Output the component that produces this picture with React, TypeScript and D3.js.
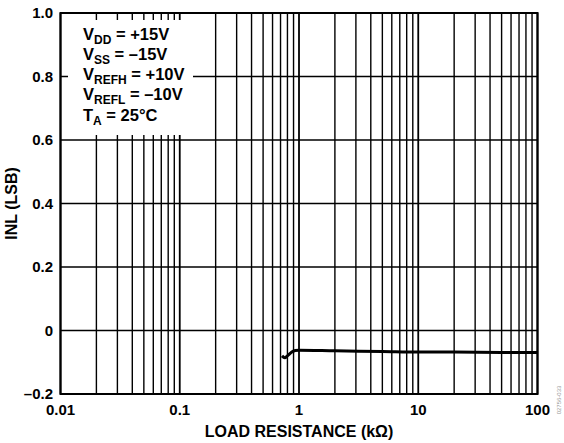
import React from 'react';
import * as d3 from 'd3';

// load resistance (kOhm) vs INL (LSB)
const loadKohm = [0.72, 0.76, 0.8, 0.87, 0.93, 1.0, 2, 5, 10, 20, 50, 100];
const inlLsb = [-0.08, -0.086, -0.08, -0.068, -0.063, -0.062, -0.064, -0.066, -0.068, -0.068, -0.069, -0.069];

const yTicks = [-0.2, 0, 0.2, 0.4, 0.6, 0.8, 1.0];
const xTicks = [0.01, 0.1, 1, 10, 100];
const xTickLabels = ['0.01', '0.1', '1', '10', '100'];

const legendRows = [
  { main: 'V', sub: 'DD', rest: ' = +15V' },
  { main: 'V', sub: 'SS', rest: ' = \u201315V' },
  { main: 'V', sub: 'REFH', rest: ' = +10V' },
  { main: 'V', sub: 'REFL', rest: ' = \u201310V' },
  { main: 'T', sub: 'A', rest: ' = 25\u00B0C' },
];

const W = 564;
const H = 443;
const left = 60.5, right = 537.5, top = 13, bottom = 394;

const App = () => {
  const x = d3.scaleLog().domain([0.01, 100]).range([left, right]);
  const y = d3.scaleLinear().domain([-0.2, 1.0]).range([bottom, top]);

  // minor grid: 2..9 of each decade
  const minor: number[] = [];
  for (let d = 0; d < 4; d++) {
    const base = 0.01 * Math.pow(10, d);
    for (let k = 2; k <= 9; k++) minor.push(base * k);
  }

  const line = d3.line<number>()
    .x((_, i) => x(loadKohm[i]))
    .y(d => y(d))
    .curve(d3.curveMonotoneX);

  const font = '"Liberation Sans", Arial, sans-serif';

  return (
    <svg width={W} height={H} style={{ position: 'absolute', left: 0, top: 0 }} fontFamily={font}>
      <rect width={W} height={H} fill="#fff" />
      {minor.map((v, i) => (
        <line key={'m' + i} x1={x(v)} x2={x(v)} y1={top} y2={bottom} stroke="#000" strokeWidth={1.4} />
      ))}
      {xTicks.map((v, i) => (
        <line key={'d' + i} x1={x(v)} x2={x(v)} y1={top} y2={bottom} stroke="#000" strokeWidth={1.8} />
      ))}
      {yTicks.map((v, i) => (
        <line key={'h' + i} x1={left} x2={right} y1={y(v)} y2={y(v)} stroke="#000" strokeWidth={1.4} />
      ))}

      {/* legend knock-out */}
      <rect x={68} y={20} width={125} height={115} fill="#fff" />
      {legendRows.map((r, i) => (
        <text key={'l' + i} x={83} y={39.5 + i * 20.3} fontSize={16.5} fontWeight="bold" fill="#000">
          {r.main}
          <tspan fontSize={12} dy={4}>{r.sub}</tspan>
          <tspan dy={-4}>{r.rest}</tspan>
        </text>
      ))}

      <path d={line(inlLsb) || ''} fill="none" stroke="#000" strokeWidth={3} strokeLinejoin="round" />

      <rect x={left} y={top} width={right - left} height={bottom - top} fill="none" stroke="#000" strokeWidth={2} />

      {yTicks.map((v, i) => (
        <text key={'yt' + i} x={53} y={y(v) + 5} textAnchor="end" fontSize={15} fontWeight="bold">
          {v === 0 ? '0' : v < 0 ? '\u2013' + Math.abs(v).toFixed(1) : v.toFixed(1)}
        </text>
      ))}
      {xTicks.map((v, i) => (
        <text key={'xt' + i} x={x(v)} y={415} textAnchor="middle" fontSize={15} fontWeight="bold">
          {xTickLabels[i]}
        </text>
      ))}

      <text x={(left + right) / 2} y={437} textAnchor="middle" fontSize={16} fontWeight="bold">
        LOAD RESISTANCE (k{'\u03A9'})
      </text>
      <text transform={`translate(17, ${(top + bottom) / 2}) rotate(-90)`} textAnchor="middle" fontSize={16} fontWeight="bold">
        INL (LSB)
      </text>
      <text transform="translate(561, 400) rotate(-90)" textAnchor="middle" fontSize={6} fill="#999">
        02756-033
      </text>
    </svg>
  );
};

export default App;
